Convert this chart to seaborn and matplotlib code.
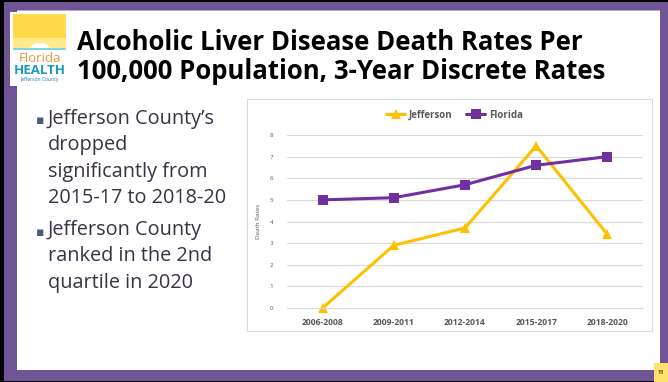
import pandas as pd
import numpy as np
from matplotlib import pyplot as plt
from matplotlib.patches import Rectangle, Circle, Wedge
import seaborn as sns

periods = ["2006-2008", "2009-2011", "2012-2014", "2015-2017", "2018-2020"]
jefferson = [0.0, 2.9, 3.7, 7.5, 3.4]
florida = [5.0, 5.1, 5.7, 6.6, 7.0]
series_names = ["Jefferson", "Florida"]
y_ticks = [0, 1, 2, 3, 4, 5, 6, 7, 8]

title = "Alcoholic Liver Disease Death Rates Per\n100,000 Population, 3-Year Discrete Rates"
bullets = ["Jefferson County\u2019s\ndropped\nsignificantly from\n2015-17 to 2018-20",
           "Jefferson County\nranked in the 2nd\nquartile in 2020"]

W, H = 668, 382
PURPLE_FRAME = "#6F5595"
YELLOW = "#FFC000"
PURPLE = "#7030A0"
TEXT_DARK = "#3B3147"

df = pd.DataFrame({
    "period": periods * 2,
    "rate": jefferson + florida,
    "series": [series_names[0]] * 5 + [series_names[1]] * 5,
})

sns.set_style("white")
plt.rcParams['font.family'] = ['Open Sans', 'DejaVu Sans']

fig = plt.figure(figsize=(W / 100, H / 100), dpi=100)
fig.patch.set_facecolor("white")


def px_rect(x0, y0, x1, y1, **kw):
    # rectangle in pixel coords (origin top-left)
    r = Rectangle((x0 / W, 1 - y1 / H), (x1 - x0) / W, (y1 - y0) / H,
                  transform=fig.transFigure, **kw)
    fig.patches.append(r)
    return r


# slide frame
px_rect(0, 0, W, 2, facecolor="black", edgecolor="none", zorder=1)
px_rect(0, 0, 4, H, facecolor="black", edgecolor="none", zorder=1)
px_rect(0, H - 1, W, H, facecolor="black", edgecolor="none", zorder=1)
px_rect(4, 2, W, 10, facecolor=PURPLE_FRAME, edgecolor="none", zorder=2)
px_rect(4, 2, 17, H - 1, facecolor=PURPLE_FRAME, edgecolor="none", zorder=2)
px_rect(660, 2, W, H - 1, facecolor=PURPLE_FRAME, edgecolor="none", zorder=2)
px_rect(4, 370, W, H - 1, facecolor=PURPLE_FRAME, edgecolor="none", zorder=2)
px_rect(17, 10, 660, 11, facecolor="#B7A7CF", edgecolor="none", zorder=2)
px_rect(654, 363, W, H, facecolor="#FFE26B", edgecolor="none", zorder=3)
fig.text(661 / W, 1 - 373 / H, "11", fontsize=4, fontweight="bold",
         color="#333333", ha="center", va="center", zorder=4)

# logo
px_rect(10, 12, 68, 86, facecolor="white", edgecolor="none", zorder=3)
px_rect(13, 14, 66, 50, facecolor="#FFD94A", edgecolor="none", zorder=4)
px_rect(13, 38, 66, 50, facecolor="#FFE98A", edgecolor="none", zorder=4)
sun = Wedge((40 / W, 1 - 48 / H), 9 / W, 0, 180, transform=fig.transFigure,
            facecolor="white", edgecolor="none", zorder=5)
fig.patches.append(sun)
px_rect(13, 48, 66, 50, facecolor="#7FD3E6", edgecolor="none", zorder=5)
fig.text(40 / W, 1 - 58 / H, "Florida", fontsize=9.5, color="#F3923A",
         ha="center", va="center", family=["Open Sans"], zorder=6)
fig.text(40 / W, 1 - 70 / H, "HEALTH", fontsize=9.5, fontweight="bold",
         color="#1A9BB8", ha="center", va="center", zorder=6)
fig.text(40 / W, 1 - 80 / H, "Jefferson County", fontsize=3.6,
         color="#1A7FA8", ha="center", va="center", zorder=6)

# title
fig.text(77 / W, 1 - 57 / H, title, fontsize=18.5, fontweight="bold",
         color="black", ha="left", va="center", linespacing=1.12, zorder=6)

# bullets
fig.text(36 / W, 1 - 121 / H, "\u25aa", fontsize=9, color="#4A5A7A",
         ha="left", va="center")
fig.text(48 / W, 1 - 109 / H, bullets[0], fontsize=14.3, color=TEXT_DARK,
         ha="left", va="top", linespacing=1.42)
fig.text(36 / W, 1 - 232 / H, "\u25aa", fontsize=9, color="#4A5A7A",
         ha="left", va="center")
fig.text(48 / W, 1 - 220 / H, bullets[1], fontsize=14.3, color=TEXT_DARK,
         ha="left", va="top", linespacing=1.42)

# chart box
px_rect(247, 99, 652, 331, facecolor="white", edgecolor="#DADADA",
        linewidth=0.7, zorder=3)

ax = fig.add_axes([287 / W, 1 - 308 / H, (643 - 287) / W, (308 - 135) / H], zorder=5)
ax.set_facecolor("none")
sns.lineplot(data=df, x="period", y="rate", hue="series", style="series",
             markers={"Jefferson": "^", "Florida": "s"}, dashes=False,
             palette={"Jefferson": YELLOW, "Florida": PURPLE},
             linewidth=2.2, markersize=7, markeredgewidth=0, ax=ax,
             sort=False)
for ln in ax.lines:
    ln.set_clip_on(False)

ax.set_xlim(-0.5, len(periods) - 0.5)
ax.set_ylim(0, 8)
ax.set_yticks(y_ticks)
ax.yaxis.grid(True, color="#D9D9D9", linewidth=0.8)
ax.set_axisbelow(True)
for s in ax.spines.values():
    s.set_visible(False)
ax.spines["bottom"].set_visible(True)
ax.spines["bottom"].set_color("#D9D9D9")
ax.tick_params(axis="y", length=0, pad=10, labelsize=4.5, labelcolor="#595959")
ax.tick_params(axis="x", length=0, pad=7, labelsize=6.2, labelcolor="#595959")
for lab in ax.get_xticklabels():
    lab.set_fontweight("bold")
ax.set_xlabel("")
ax.set_ylabel("Death Rates", fontsize=4.5, color="#595959", labelpad=6)

leg = ax.legend(loc="center", bbox_to_anchor=(0.47, 1 + 20 / 173), ncol=2,
                frameon=False, fontsize=7, handlelength=2.0, handletextpad=0.35,
                columnspacing=1.4)
for t in leg.get_texts():
    t.set_color("#595959")
    t.set_fontweight("bold")

fig.savefig("out.png", dpi=100)
